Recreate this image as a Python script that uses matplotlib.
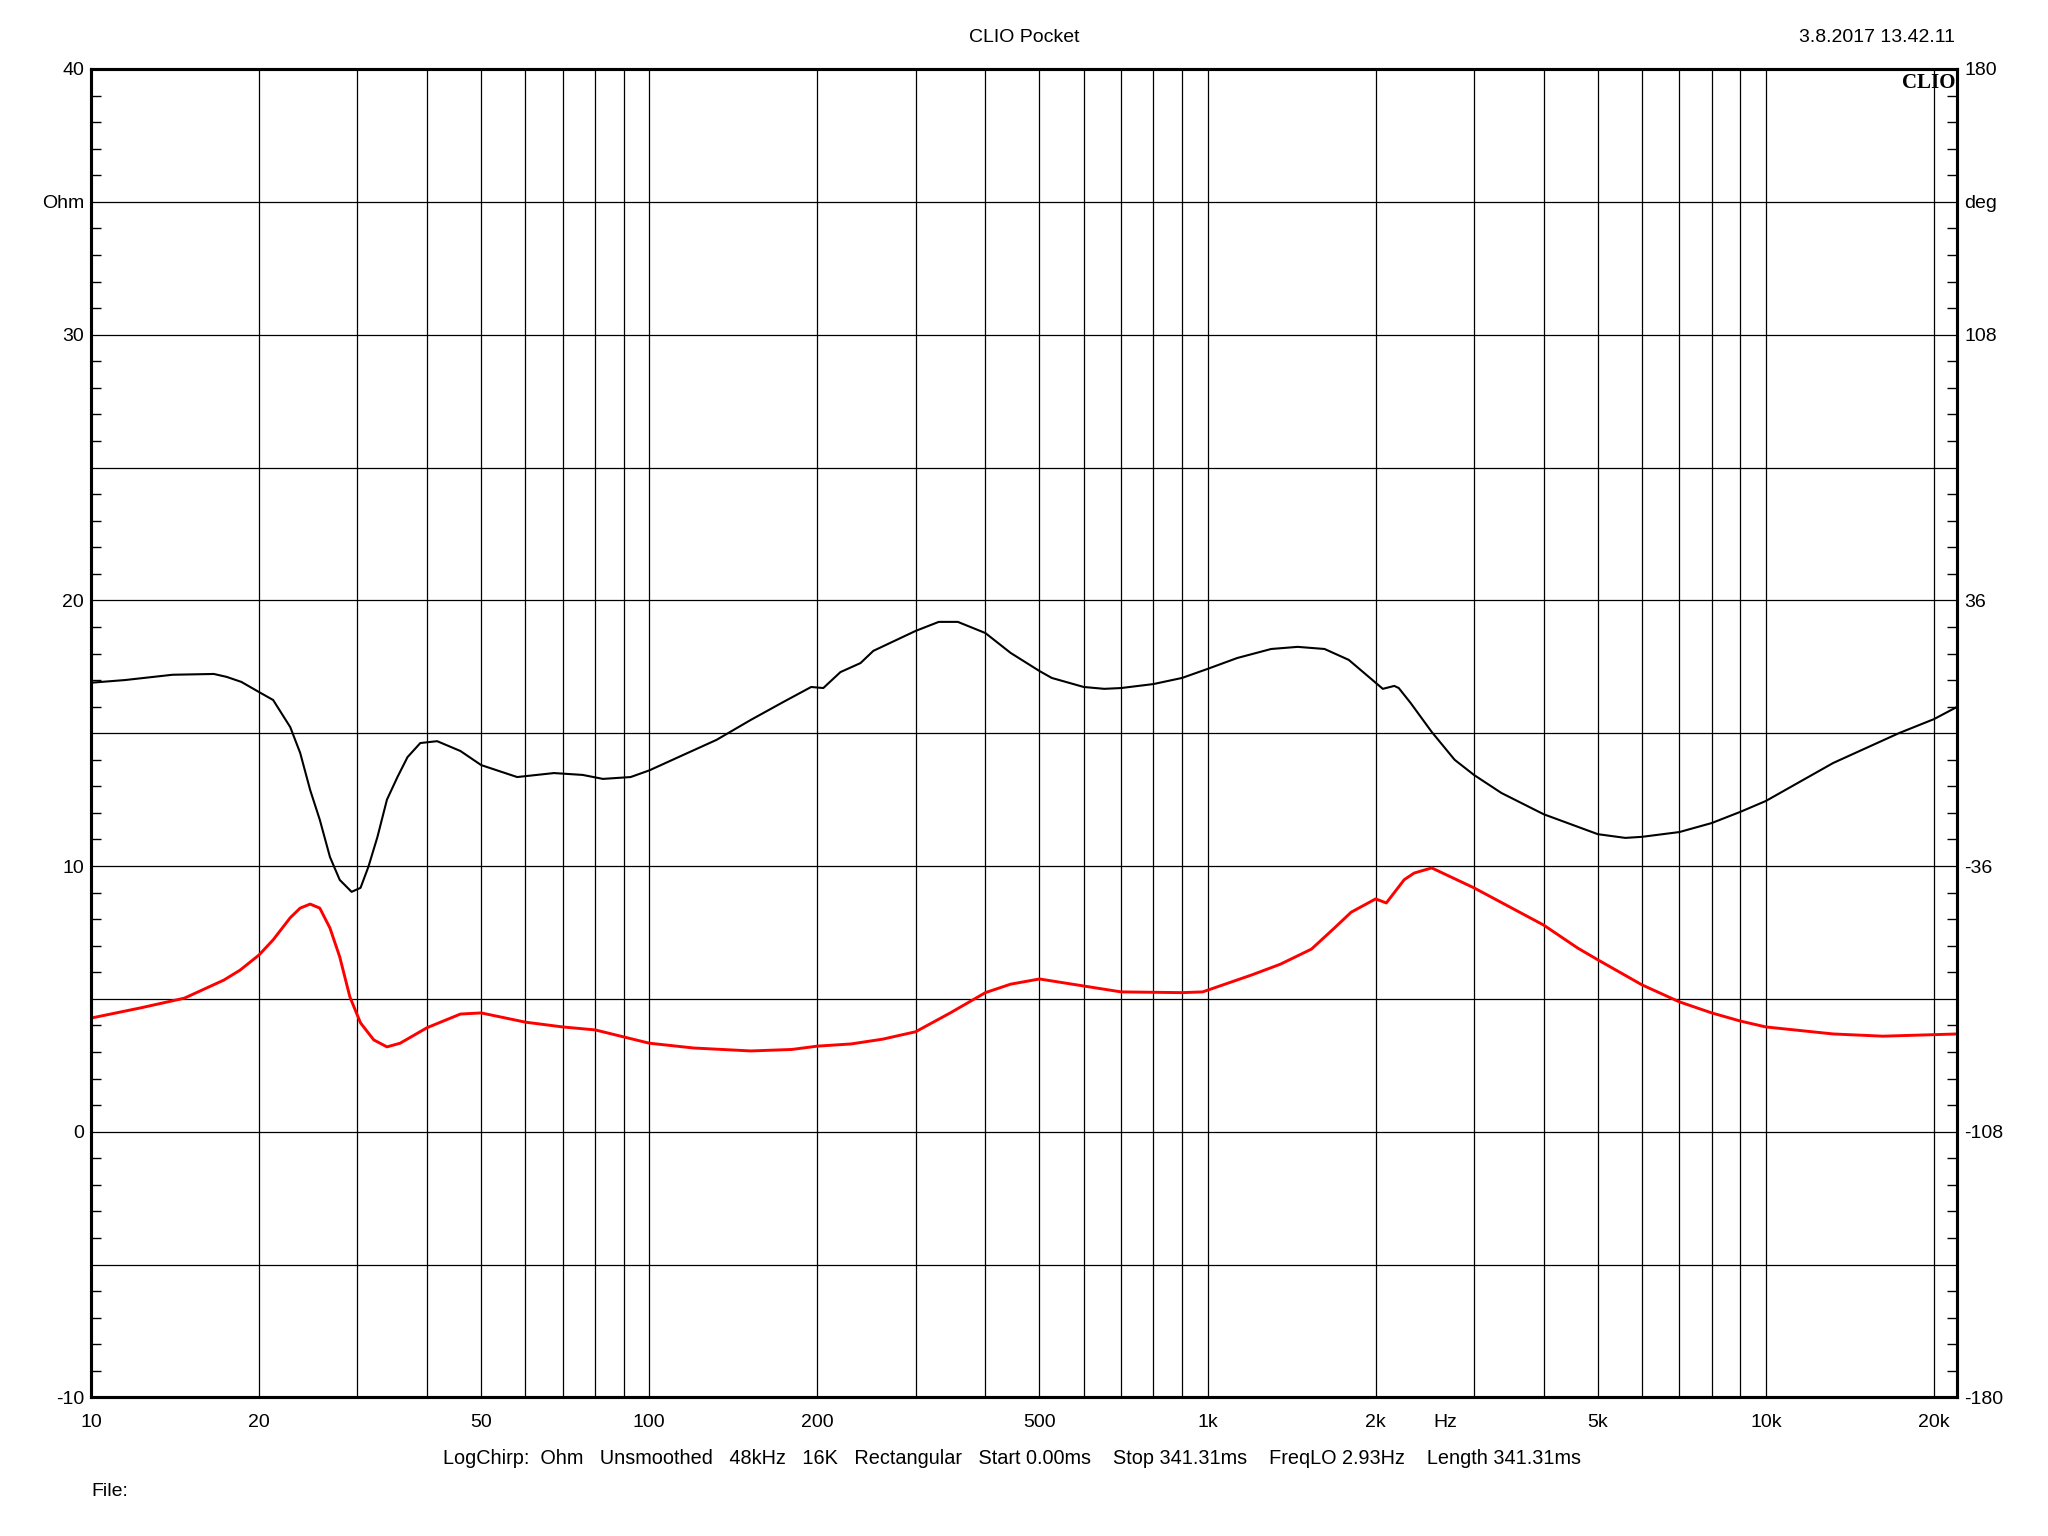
import matplotlib
matplotlib.use('Agg')
import matplotlib.pyplot as plt
from matplotlib.ticker import FixedLocator, MultipleLocator, FuncFormatter

plt.rcParams['font.family'] = 'Liberation Sans'

# impedance modulus (Ohm)
imp_freq = [10, 11.5, 14, 16.6, 17.5, 18.6, 20, 21.2, 22.75, 23.7, 24.7, 25.7, 26.8,
            27.9, 29.3, 30.4, 31.4, 32.6, 33.9, 35.4, 36.9, 38.9, 41.7, 45.9, 50, 58,
            67.5, 76, 82.6, 92.6, 100, 115, 132, 152, 174, 195, 205, 220, 239, 252,
            300, 330, 357, 400, 444, 500, 526, 600, 653, 700, 800, 900, 1000, 1130,
            1300, 1450, 1620, 1790, 2000, 2060, 2160, 2200, 2310, 2520, 2770, 3000,
            3360, 4000, 5000, 5600, 6000, 7000, 8000, 9000, 10000, 13200, 17300,
            20000, 22000]
imp_ohm = [16.9, 17.0, 17.2, 17.23, 17.12, 16.93, 16.55, 16.25, 15.23, 14.26, 12.86,
           11.74, 10.34, 9.48, 9.03, 9.18, 9.97, 11.1, 12.5, 13.35, 14.1, 14.63, 14.7,
           14.33, 13.8, 13.35, 13.5, 13.43, 13.28, 13.35, 13.6, 14.18, 14.75, 15.5,
           16.18, 16.74, 16.7, 17.3, 17.64, 18.1, 18.85, 19.19, 19.19, 18.77, 18.02,
           17.34, 17.08, 16.74, 16.67, 16.7, 16.85, 17.08, 17.42, 17.83, 18.17, 18.25,
           18.17, 17.76, 16.9, 16.67, 16.78, 16.7, 16.14, 15.05, 14.0, 13.43, 12.75,
           11.95, 11.2, 11.06, 11.1, 11.28, 11.62, 12.04, 12.45, 13.88, 15.0, 15.53,
           15.99]

# impedance phase (deg)
ph_freq = [10, 12.3, 14.7, 17.3, 18.5, 20, 21.2, 22.75, 23.7, 24.7, 25.7, 26.8, 27.9,
           29.1, 30.4, 32.1, 33.9, 35.8, 40, 45.9, 50, 60, 70, 80, 100, 120, 152, 180,
           200, 230, 262, 300, 346, 400, 444, 500, 600, 700, 900, 980, 1200, 1350,
           1535, 1687, 1808, 2000, 2090, 2250, 2344, 2520, 3000, 4000, 4600, 5000,
           6000, 7000, 8000, 9000, 10000, 13200, 16200, 22000]
ph_deg = [-77.2, -74.4, -71.8, -66.9, -64.2, -60.1, -56.0, -50.0, -47.4, -46.3, -47.4,
          -52.8, -60.6, -71.5, -78.5, -83.1, -85.0, -84.0, -79.8, -76.1, -75.8, -78.3,
          -79.6, -80.4, -84.0, -85.3, -86.1, -85.7, -84.8, -84.2, -82.9, -80.9, -75.8,
          -70.3, -68.0, -66.6, -68.5, -70.1, -70.3, -70.1, -65.5, -62.6, -58.5, -52.8,
          -48.5, -44.9, -46.0, -39.7, -37.9, -36.5, -41.9, -52.0, -58.2, -61.4, -68.2,
          -72.8, -75.8, -78.0, -79.6, -81.5, -82.1, -81.5]

grid_freqs = [m * 10 ** e for e in range(1, 5) for m in range(1, 10)]
grid_freqs = [f for f in grid_freqs if f <= 20000]
label_map = {10: '10', 20: '20', 50: '50', 100: '100', 200: '200', 500: '500',
             1000: '1k', 2000: '2k', 5000: '5k', 10000: '10k', 20000: '20k'}
ohm_labels = {-10: '-10', 0: '0', 10: '10', 20: '20', 30: '30', 35: 'Ohm', 40: '40'}
deg_labels = {-180: '-180', -108: '-108', -36: '-36', 36: '36', 108: '108',
              144: 'deg', 180: '180'}

fig = plt.figure(figsize=(20.48, 15.36), dpi=100)
ax = fig.add_axes([0.0444, 0.0902, 0.9112, 0.8649])
ax.set_xscale('log')
ax.set_xlim(10, 22000)
ax.set_ylim(-10, 40)

ax.xaxis.set_major_locator(FixedLocator(grid_freqs))
ax.xaxis.set_minor_locator(FixedLocator([]))
ax.xaxis.set_major_formatter(FuncFormatter(lambda v, p: label_map.get(int(round(v)), '')))
ax.yaxis.set_major_locator(MultipleLocator(5))
ax.yaxis.set_minor_locator(MultipleLocator(1))
ax.yaxis.set_major_formatter(FuncFormatter(lambda v, p: ohm_labels.get(int(round(v)), '')))
ax.tick_params(axis='x', which='both', length=0, pad=12, labelsize=14)
ax.tick_params(axis='y', which='major', length=0, pad=5, labelsize=14)
ax.tick_params(axis='y', which='minor', direction='in', length=7, width=1)
ax.grid(True, which='major', color='black', linewidth=0.9)
for s in ax.spines.values():
    s.set_linewidth(2.2)

ax.plot(imp_freq, imp_ohm, color='black', linewidth=1.5)

ax2 = ax.twinx()
ax2.set_ylim(-180, 180)
ax2.yaxis.set_major_locator(MultipleLocator(36))
ax2.yaxis.set_minor_locator(MultipleLocator(7.2))
ax2.yaxis.set_major_formatter(FuncFormatter(lambda v, p: deg_labels.get(int(round(v)), '')))
ax2.tick_params(axis='y', which='major', length=0, pad=5, labelsize=14)
ax2.tick_params(axis='y', which='minor', direction='in', length=7, width=1)
for s in ax2.spines.values():
    s.set_linewidth(2.2)
ax2.plot(ph_freq, ph_deg, color='red', linewidth=2.1)

ax.text(2670, -0.0125, 'Hz', transform=ax.get_xaxis_transform(), fontsize=14,
        ha='center', va='top')
ax.text(0.999, 0.997, 'CLIO', transform=ax.transAxes, ha='right', va='top',
        fontfamily='Liberation Serif', fontweight='bold', fontsize=15)

fig.text(0.5, 1 - 38 / 1536, 'CLIO Pocket', ha='center', va='center', fontsize=14)
fig.text(1955 / 2048, 1 - 38 / 1536, '3.8.2017 13.42.11', ha='right', va='center',
         fontsize=14)
fig.text(443 / 2048, 1 - 1458 / 1536,
         'LogChirp:  Ohm   Unsmoothed   48kHz   16K   Rectangular   Start 0.00ms    '
         'Stop 341.31ms    FreqLO 2.93Hz    Length 341.31ms',
         ha='left', va='center', fontsize=14.3)
fig.text(91 / 2048, 1 - 1492 / 1536, 'File:', ha='left', va='center', fontsize=14)

fig.savefig('out.png', dpi=100)
